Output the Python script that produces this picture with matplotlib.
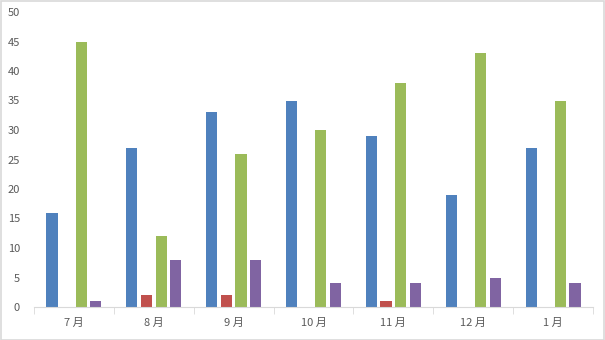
import numpy as np
import matplotlib.pyplot as plt
from matplotlib.patches import Rectangle

plt.rcParams['font.family'] = ['Noto Sans CJK SC', 'DejaVu Sans']

months = ['7 月', '8 月', '9 月', '10 月', '11 月', '12 月', '1 月']
s_blue = [16, 27, 33, 35, 29, 19, 27]
s_red = [0, 2, 2, 0, 1, 0, 0]
s_green = [45, 12, 26, 30, 38, 43, 35]
s_purple = [1, 8, 8, 4, 4, 5, 4]

colors = ['#4f81bd', '#c0504d', '#9bbb59', '#8064a2']

fig = plt.figure(figsize=(6.05, 3.40), dpi=100)
ax = fig.add_axes([34 / 605, 33 / 340, 559 / 605, 295 / 340])

x = np.arange(len(months))
step = 0.183
width = 0.14
for i, (vals, c) in enumerate(zip([s_blue, s_red, s_green, s_purple], colors)):
    ax.bar(x + (i - 1.5) * step, vals, width=width, color=c, zorder=2)

ax.set_xlim(-0.5, len(months) - 0.5)
ax.set_ylim(0, 50)
ax.set_yticks(range(0, 51, 5))
ax.set_xticks(x)
ax.set_xticklabels(months)
ax.set_xticks(np.arange(-0.5, len(months)), minor=True)

for side in ['top', 'right', 'left']:
    ax.spines[side].set_visible(False)
ax.spines['bottom'].set_color('#d9d9d9')
ax.tick_params(axis='y', length=0, labelsize=8, labelcolor='#595959', pad=10)
ax.tick_params(axis='x', which='major', length=0, labelsize=8, labelcolor='#595959', pad=8)
ax.tick_params(axis='x', which='minor', length=5, color='#d9d9d9', direction='out')

# light frame around the whole figure
fig.patches.append(Rectangle((0.001, 0.001), 0.998, 0.997, transform=fig.transFigure,
                             fill=False, edgecolor='#d9d9d9', linewidth=1.2))

plt.savefig('out.png', dpi=100)
